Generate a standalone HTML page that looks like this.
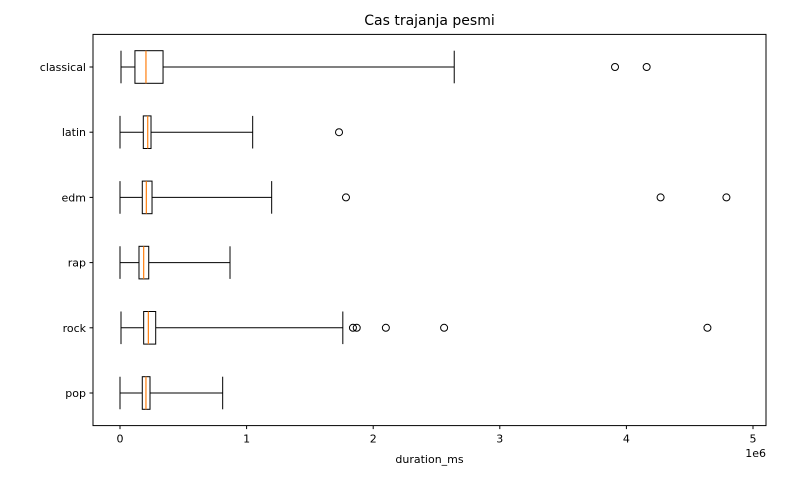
<!DOCTYPE html>
<html><head><meta charset="utf-8"><style>
body{margin:0;background:#fff;}
svg{display:block;font-family:"DejaVu Sans","Liberation Sans",sans-serif;}
</style></head><body>
<svg id="chart" width="798" height="484"></svg>
<script>
const categories=["pop","rock","rap","edm","latin","classical"];
const whiskLo=[0,8000,0,0,0,8000];
const q1=[176000,187000,150000,176000,184000,118000];
const medians=[205000,224000,187000,208000,219000,205000];
const q3=[237000,282000,227000,253000,245000,340000];
const whiskHi=[811000,1760000,869000,1198000,1048000,2640000];
const outliers=[[],[1840000,1870000,2100000,2560000,4640000],[],[1785000,4270000,4790000],[1730000],[3910000,4160000]];
const xTicks=[0,1,2,3,4,5];

const L=93,R=766,T=34.4,B=425.6;
const xmin=-0.21e6,xmax=5.1e6;
const X=v=>120+(v/1e6)*126.6;
const Y=i=>B-(i+0.5)*(B-T)/categories.length;
const svg=document.getElementById('chart');
const NS='http://www.w3.org/2000/svg';
function mk(t,a,p){const e=document.createElementNS(NS,t);for(const k in a)e.setAttribute(k,a[k]);(p||svg).appendChild(e);return e;}

const title=mk('text',{x:(L+R)/2,y:25,'text-anchor':'middle','font-size':14,fill:'#000'});
title.textContent='Cas trajanja pesmi';



const hb=(B-T)/categories.length*0.5;
categories.forEach((c,i)=>{
  const y=Y(i);
  const g=mk('g',{});
  
  
  const st={stroke:'#000','stroke-width':1,fill:'none'};
  mk('line',Object.assign({x1:X(whiskLo[i]),x2:X(q1[i]),y1:y,y2:y},st),g);
  mk('line',Object.assign({x1:X(q3[i]),x2:X(whiskHi[i]),y1:y,y2:y},st),g);
  mk('line',Object.assign({x1:X(whiskLo[i]),x2:X(whiskLo[i]),y1:y-hb/2,y2:y+hb/2},st),g);
  mk('line',Object.assign({x1:X(whiskHi[i]),x2:X(whiskHi[i]),y1:y-hb/2,y2:y+hb/2},st),g);
  mk('rect',Object.assign({x:X(q1[i]),y:y-hb/2,width:X(q3[i])-X(q1[i]),height:hb},st),g);
  mk('line',{x1:X(medians[i]),x2:X(medians[i]),y1:y-hb/2,y2:y+hb/2,stroke:'#ff7f0e','stroke-width':1.2},g);
  outliers[i].forEach(v=>{
    const o=mk('circle',{cx:X(v),cy:y,r:3.5,fill:'none',stroke:'#000','stroke-width':1},g);
    
    
  });
  mk('line',{x1:L,x2:L-3.5,y1:y,y2:y,stroke:'#000'});
  const t=mk('text',{x:L-7,y:y+4,'text-anchor':'end','font-size':11,fill:'#000'});
  t.textContent=c;
  
  
});
xTicks.forEach(v=>{
  const x=X(v*1e6);
  mk('line',{x1:x,x2:x,y1:B,y2:B+3.5,stroke:'#000'});
  const t=mk('text',{x:x,y:B+17,'text-anchor':'middle','font-size':11,fill:'#000'});
  t.textContent=v;
  
  
});
const fr=mk('rect',{x:L,y:T,width:R-L,height:B-T,fill:'none',stroke:'#000','stroke-width':1});


const xl=mk('text',{x:(L+R)/2,y:463,'text-anchor':'middle','font-size':11,fill:'#000'});
xl.textContent='duration_ms';


const off=mk('text',{x:R,y:457,'text-anchor':'end','font-size':11,fill:'#000'});
off.textContent='1e6';


</script>
</body></html>
